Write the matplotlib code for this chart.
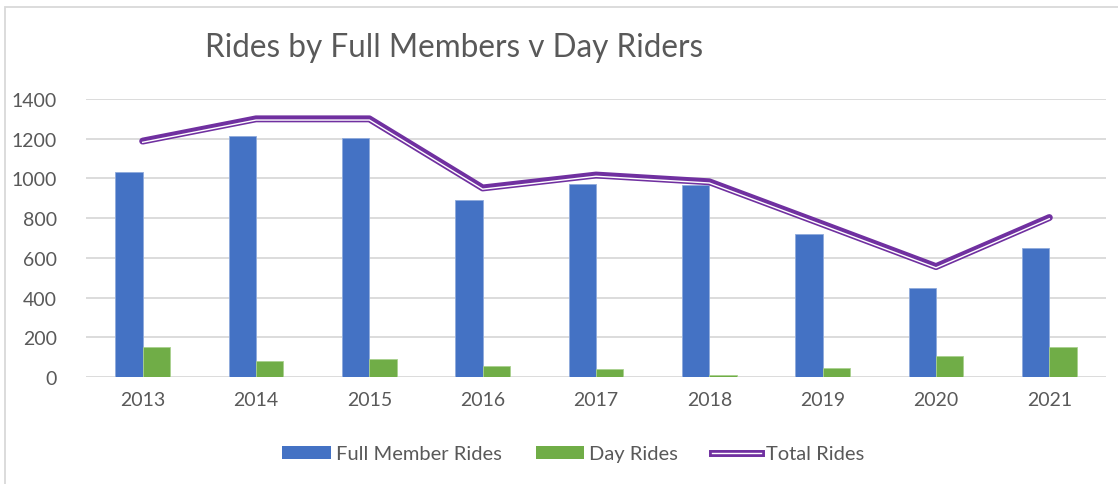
import matplotlib.pyplot as plt
import matplotlib.transforms as mtransforms
from matplotlib.patches import Rectangle, Patch
from matplotlib.lines import Line2D
import matplotlib.patheffects as pe
import numpy as np

plt.rcParams['font.family'] = ['Lato', 'DejaVu Sans']

years = ['2013', '2014', '2015', '2016', '2017', '2018', '2019', '2020', '2021']
full_member = [1032, 1214, 1204, 891, 972, 967, 719, 447, 650]
day_rides = [153, 82, 92, 55, 40, 12, 47, 104, 149]
total_rides = [1188, 1300, 1300, 952, 1017, 983, 770, 556, 803]

blue = '#4472C4'
green = '#70AD47'
purple = '#7030A0'
txt = '#595959'

fig = plt.figure(figsize=(11.18, 4.85), dpi=100)
ax = fig.add_axes([86 / 1118, 1 - 378 / 485, (1106 - 86) / 1118, (378 - 100) / 485])

x = np.arange(len(years))
w = 0.24
ax.bar(x - w / 2, full_member, w, color=blue, edgecolor='#8FAADC', linewidth=0.6, zorder=2)
ax.bar(x + w / 2, day_rides, w, color=green, edgecolor='#A9D18E', linewidth=0.6, zorder=2)

# double line: thick purple with a thin white stripe slightly below centre
ax.plot(x, total_rides, color=purple, lw=5, solid_capstyle='round', solid_joinstyle='round', zorder=3)
shift = mtransforms.ScaledTranslation(0, -1.2 / 100, fig.dpi_scale_trans)
ax.plot(x, total_rides, color='white', lw=1.0, transform=ax.transData + shift, zorder=4)

ax.set_xlim(-0.5, len(years) - 0.5)
ax.set_ylim(0, 1400)
ax.set_yticks(range(0, 1401, 200))
ax.set_xticks(x)
ax.set_xticklabels(years)
ax.tick_params(axis='both', length=0, labelsize=14, labelcolor=txt)
ax.tick_params(axis='y', pad=21)
ax.tick_params(axis='x', pad=10)
ax.grid(axis='y', color='#D9D9D9', lw=1.3, zorder=0)
ax.set_axisbelow(True)
for s in ax.spines.values():
    s.set_visible(False)

fig.text(454 / 1118, 1 - 48 / 485, 'Rides by Full Members v Day Riders',
         ha='center', va='center', fontsize=22.7, color=txt)

# chart frame (left and top edges visible)
fig.patches.append(Rectangle((5 / 1118, -0.1), 1.2, 1 - 8 / 485 + 0.1,
                             transform=fig.transFigure, fill=False,
                             edgecolor='#D9D9D9', lw=1.3))

handles = [Patch(facecolor=blue, label='Full Member Rides'),
           Patch(facecolor=green, label='Day Rides'),
           Line2D([0], [0], color='white', lw=1, label='Total Rides',
                  path_effects=[pe.Stroke(linewidth=5, foreground=purple), pe.Normal()])]
leg = fig.legend(handles=handles, loc='center', bbox_to_anchor=(573 / 1118, 1 - 455 / 485),
                 ncol=3, frameon=False, fontsize=14.5, handlelength=2.4, handleheight=0.65,
                 handletextpad=0.25, columnspacing=1.7, labelcolor=txt)

fig.savefig('out.png', dpi=100)
